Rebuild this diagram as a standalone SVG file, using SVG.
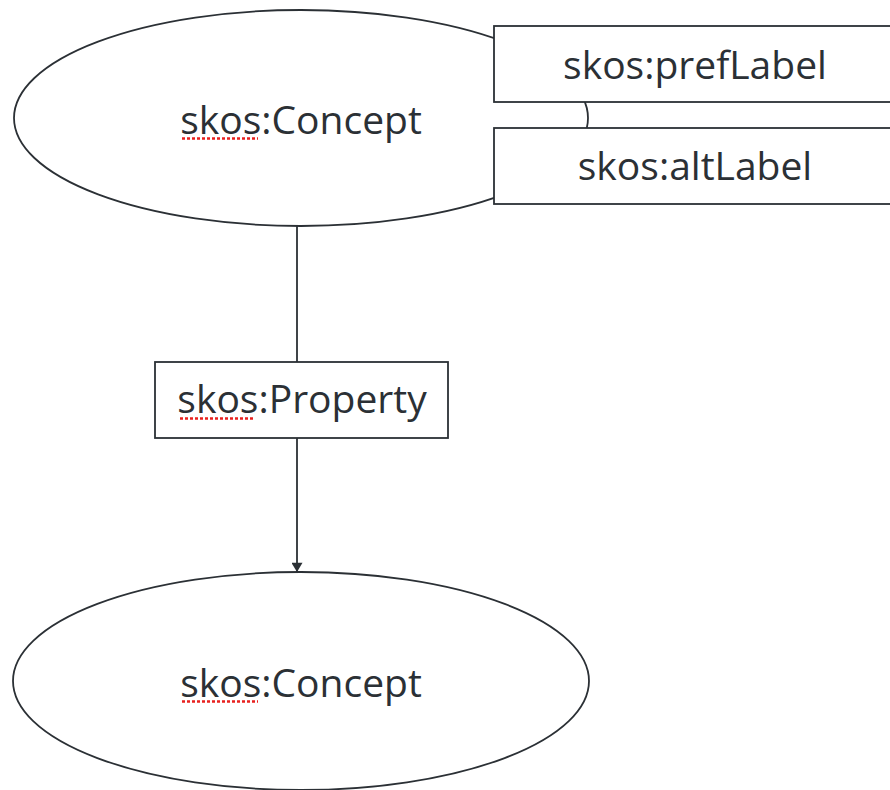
<svg xmlns="http://www.w3.org/2000/svg" width="890" height="790" viewBox="0 0 890 790">
  <defs>
    <marker id="arrow" viewBox="0 0 10 12" refX="10" refY="6" markerWidth="12" markerHeight="11" markerUnits="userSpaceOnUse" orient="auto">
      <path d="M0,0 L10,6 L0,12 Z" fill="#2b3035"/>
    </marker>
    <style>
      .shape { fill: #ffffff; stroke: #2b3035; stroke-width: 1.8; }
      .lbl { font-family: "Open Sans", "Noto Sans", sans-serif; font-size: 39px; fill: #2b3035; text-anchor: middle; }
      .squig { stroke: #e8201e; stroke-width: 2.5; stroke-dasharray: 3 2; fill: none; }
      .conn { stroke: #2b3035; stroke-width: 1.8; fill: none; }
    </style>
  </defs>
  <rect width="890" height="790" fill="#ffffff"/>

  <g id="connectors">
    <line class="conn" x1="297" y1="226" x2="297" y2="362"/>
    <line class="conn" x1="297" y1="438" x2="297" y2="572" marker-end="url(#arrow)"/>
  </g>

  <g id="concept-top">
    <ellipse class="shape" cx="301" cy="118" rx="287" ry="108"/>
    <text class="lbl" x="301" y="134">skos:Concept</text>
    <line class="squig" x1="182" y1="138.5" x2="258" y2="138.5"/>
  </g>

  <g id="prefLabel">
    <rect class="shape" x="494" y="26" width="402" height="76"/>
    <text class="lbl" x="695" y="79">skos:prefLabel</text>
  </g>

  <g id="altLabel">
    <rect class="shape" x="494" y="128" width="402" height="76"/>
    <text class="lbl" x="695" y="180">skos:altLabel</text>
  </g>

  <g id="property">
    <rect class="shape" x="155" y="362" width="293" height="76"/>
    <text class="lbl" x="302" y="413">skos:Property</text>
    <line class="squig" x1="180" y1="418.5" x2="255" y2="418.5"/>
  </g>

  <g id="concept-bottom">
    <ellipse class="shape" cx="301" cy="681" rx="288" ry="109"/>
    <text class="lbl" x="301" y="697">skos:Concept</text>
    <line class="squig" x1="182" y1="701.5" x2="258" y2="701.5"/>
  </g>
</svg>
